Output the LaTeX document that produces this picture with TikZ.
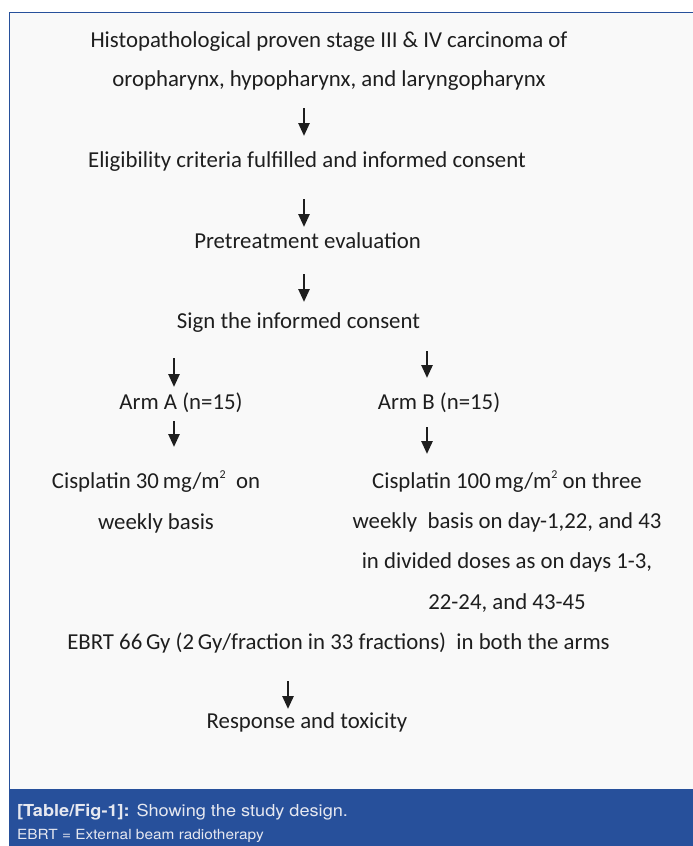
\documentclass[tikz,border=0pt]{standalone}
\usepackage{fontspec}
\setmainfont{Carlito}
\newfontfamily\capfont[FakeStretch=1.1]{TeX Gyre Heros}
\usetikzlibrary{arrows.meta}
\definecolor{figblue}{HTML}{27509B}
\definecolor{panelgray}{HTML}{F9F9F9}
\definecolor{inkgray}{HTML}{1E1E1E}
\definecolor{capwhite}{HTML}{E6E8F0}
\newcommand{\sqm}{m\raisebox{0.85ex}{\fontsize{12}{12}\selectfont 2}}

\begin{document}
\begin{tikzpicture}[x=1pt, y=-1pt,
    txt/.style={font=\fontsize{22.8}{40}\selectfont, text=inkgray, align=center, inner sep=0pt, anchor=base},
    captxt/.style={text=capwhite, inner sep=0pt, anchor=base west},
    arr/.style={draw, inkgray, line width=2.6pt, -{Triangle[length=13pt, width=11pt]}}]
    \useasboundingbox (0,0) rectangle (693,846);
    % panel, frame and caption bar
    \fill[panelgray] (9,12) rectangle (693,789);
    \draw[figblue, line width=1.3pt] (9.6,789) -- (9.6,12.2) -- (693,12.2);
    \fill[figblue] (9,789) rectangle (693,846);

    % multi-line nodes sit on the baseline of their last line
    \node[txt, font=\fontsize{22.8}{39}\selectfont] (diag) at (329,86) {Histopathological proven stage III \& IV carcinoma of\\oropharynx, hypopharynx, and laryngopharynx};
    \node[txt] (elig) at (307,167) {Eligibility criteria fulfilled and informed consent};
    \node[txt] (pre) at (307.5,248) {Pretreatment evaluation};
    \node[txt] (sign) at (298.5,328) {Sign the informed consent};
    \node[txt] (arma) at (181,409) {Arm A (n=15)};
    \node[txt] (armb) at (439,409) {Arm B (n=15)};
    \node[txt, font=\fontsize{22.8}{41}\selectfont] (cisa) at (156,529) {Cisplatin 30\,mg/\sqm~ on\\weekly basis};
    \node[txt, font=\fontsize{22.8}{40.3}\selectfont] (cisb) at (507,609) {Cisplatin 100\,mg/\sqm{} on three\\weekly~ basis on day-1,22, and 43\\in divided doses as on days 1-3,\\22-24, and 43-45};
    \node[txt] (ebrt) at (338.5,649) {EBRT 66\,Gy (2\,Gy/fraction in 33 fractions)~ in both the arms};
    \node[txt] (resp) at (307,728) {Response and toxicity};

    % arrow ends
    \coordinate (t1) at (304,108);  \coordinate (h1) at (304,136);
    \coordinate (t2) at (304,199);  \coordinate (h2) at (304,227);
    \coordinate (t3) at (304,274);  \coordinate (h3) at (304,302);
    \coordinate (ta1) at (174,358); \coordinate (ha1) at (174,387);
    \coordinate (tb1) at (427,351); \coordinate (hb1) at (427,378);
    \coordinate (ta2) at (174,421); \coordinate (ha2) at (174,447);
    \coordinate (tb2) at (427,427); \coordinate (hb2) at (427,454);
    \coordinate (t4) at (288,681);  \coordinate (h4) at (288,709);

    \draw[arr] (t1) -- (h1);
    \draw[arr] (t2) -- (h2);
    \draw[arr] (t3) -- (h3);
    \draw[arr] (ta1) -- (ha1);
    \draw[arr] (tb1) -- (hb1);
    \draw[arr] (ta2) -- (ha2);
    \draw[arr] (tb2) -- (hb2);
    \draw[arr] (t4) -- (h4);

    \node[captxt, font=\capfont\fontsize{16.5}{18}\selectfont] (title) at (17,816) {\textbf{[Table/Fig-1]:} Showing the study design.};
    \node[captxt, font=\capfont\fontsize{14}{15}\selectfont] (note) at (17,839) {EBRT = External beam radiotherapy};
\end{tikzpicture}
\end{document}
